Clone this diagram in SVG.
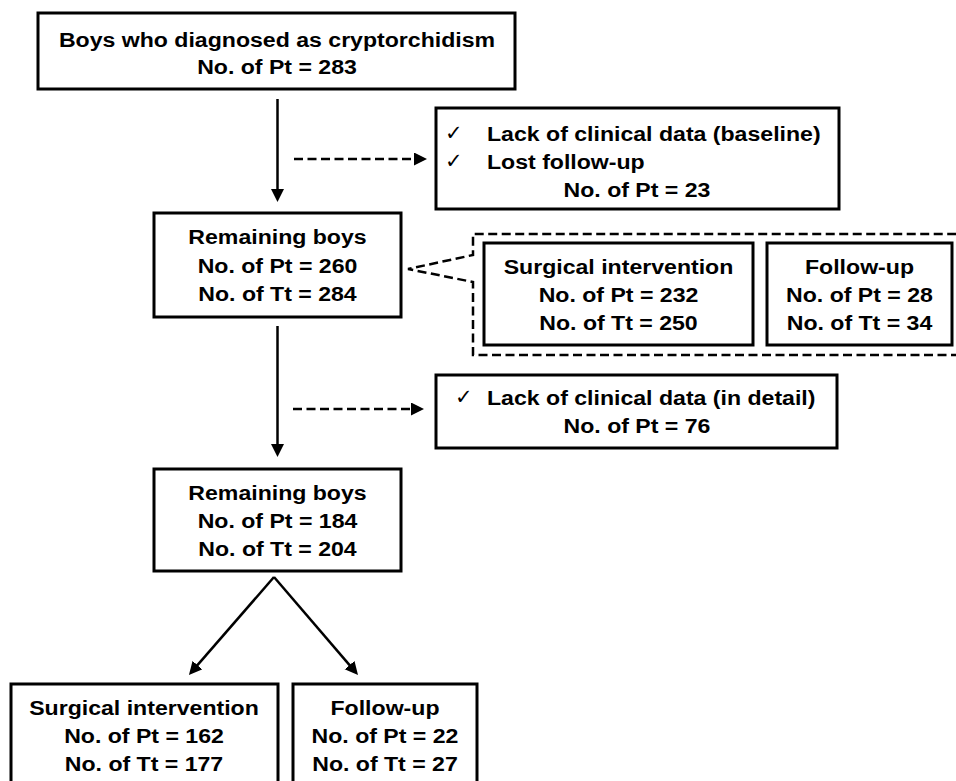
<svg xmlns="http://www.w3.org/2000/svg" width="956" height="781" viewBox="0 0 956 781">
<style>
  .box { fill: #fff; stroke: #000; stroke-width: 3; }
  .t { font-family: "Liberation Sans", Arial, sans-serif; font-weight: bold; font-size: 21px; fill: #000; }
  .c { text-anchor: middle; }
  .chk { font-family: "DejaVu Sans", sans-serif; font-size: 21px; fill: #000; }
  .solid { stroke: #000; stroke-width: 2.5; fill: none; }
  .dash { stroke: #000; stroke-width: 2.5; fill: none; stroke-dasharray: 9 4.5; }
</style>
<defs>
  <marker id="ah" markerUnits="userSpaceOnUse" markerWidth="14" markerHeight="14" refX="3" refY="6.5" orient="auto">
    <path d="M0,0 L13,6.5 L0,13 Z" fill="#000"/>
  </marker>
</defs>
<rect width="956" height="781" fill="#fff"/>

<g id="connectors">
  <line class="solid" x1="277.5" y1="99" x2="277.5" y2="192" marker-end="url(#ah)"/>
  <line class="dash" x1="294" y1="159" x2="417" y2="159" marker-end="url(#ah)"/>
  <line class="solid" x1="277.5" y1="326" x2="277.5" y2="447" marker-end="url(#ah)"/>
  <line class="dash" x1="293" y1="409" x2="414" y2="409" marker-end="url(#ah)"/>
  <line class="solid" x1="274" y1="577" x2="195.5" y2="667.4" marker-end="url(#ah)"/>
  <line class="solid" x1="274" y1="577" x2="351.5" y2="667.4" marker-end="url(#ah)"/>
</g>

<g id="n-all">
  <rect class="box" x="38" y="13" width="477" height="76"/>
  <text class="t c" transform="matrix(1.1 0 0 1 277 47)">Boys who diagnosed as cryptorchidism</text>
  <text class="t c" transform="matrix(1.1 0 0 1 277 74)">No. of Pt = 283</text>
</g>

<g id="n-excl1">
  <rect class="box" x="436" y="108" width="403" height="101"/>
  <text class="chk" x="445" y="140">✓</text>
  <text class="t" transform="matrix(1.1 0 0 1 487 141)">Lack of clinical data (baseline)</text>
  <text class="chk" x="445" y="168">✓</text>
  <text class="t" transform="matrix(1.1 0 0 1 487 169)">Lost follow-up</text>
  <text class="t c" transform="matrix(1.1 0 0 1 637 197)">No. of Pt = 23</text>
</g>

<g id="n-rem1">
  <rect class="box" x="154" y="213" width="247" height="104"/>
  <text class="t c" transform="matrix(1.1 0 0 1 277.5 244)">Remaining boys</text>
  <text class="t c" transform="matrix(1.1 0 0 1 277.5 273)">No. of Pt = 260</text>
  <text class="t c" transform="matrix(1.1 0 0 1 277.5 301)">No. of Tt = 284</text>
</g>

<g id="n-group">
  <path class="dash" d="M960,355 L473,355 L473,282 L408,269 L473,255 L473,234 L960,234" stroke-linejoin="miter"/>
</g>

<g id="n-surg1">
  <rect class="box" x="484" y="243" width="269" height="102"/>
  <text class="t c" transform="matrix(1.1 0 0 1 618.5 274)">Surgical intervention</text>
  <text class="t c" transform="matrix(1.1 0 0 1 618.5 302)">No. of Pt = 232</text>
  <text class="t c" transform="matrix(1.1 0 0 1 618.5 330)">No. of Tt = 250</text>
</g>

<g id="n-fu1">
  <rect class="box" x="767" y="243" width="185" height="102"/>
  <text class="t c" transform="matrix(1.1 0 0 1 859.5 274)">Follow-up</text>
  <text class="t c" transform="matrix(1.1 0 0 1 859.5 302)">No. of Pt = 28</text>
  <text class="t c" transform="matrix(1.1 0 0 1 859.5 330)">No. of Tt = 34</text>
</g>

<g id="n-excl2">
  <rect class="box" x="436" y="375" width="401" height="73"/>
  <text class="chk" x="455" y="404">✓</text>
  <text class="t" transform="matrix(1.1 0 0 1 487 405)">Lack of clinical data (in detail)</text>
  <text class="t c" transform="matrix(1.1 0 0 1 637 433)">No. of Pt = 76</text>
</g>

<g id="n-rem2">
  <rect class="box" x="154" y="469" width="247" height="102"/>
  <text class="t c" transform="matrix(1.1 0 0 1 277.5 500)">Remaining boys</text>
  <text class="t c" transform="matrix(1.1 0 0 1 277.5 528)">No. of Pt = 184</text>
  <text class="t c" transform="matrix(1.1 0 0 1 277.5 556)">No. of Tt = 204</text>
</g>

<g id="n-surg2">
  <rect class="box" x="11" y="684" width="267" height="110"/>
  <text class="t c" transform="matrix(1.1 0 0 1 144 715)">Surgical intervention</text>
  <text class="t c" transform="matrix(1.1 0 0 1 144 743)">No. of Pt = 162</text>
  <text class="t c" transform="matrix(1.1 0 0 1 144 771)">No. of Tt = 177</text>
</g>

<g id="n-fu2">
  <rect class="box" x="293" y="684" width="184" height="110"/>
  <text class="t c" transform="matrix(1.1 0 0 1 385 715)">Follow-up</text>
  <text class="t c" transform="matrix(1.1 0 0 1 385 743)">No. of Pt = 22</text>
  <text class="t c" transform="matrix(1.1 0 0 1 385 771)">No. of Tt = 27</text>
</g>
</svg>
